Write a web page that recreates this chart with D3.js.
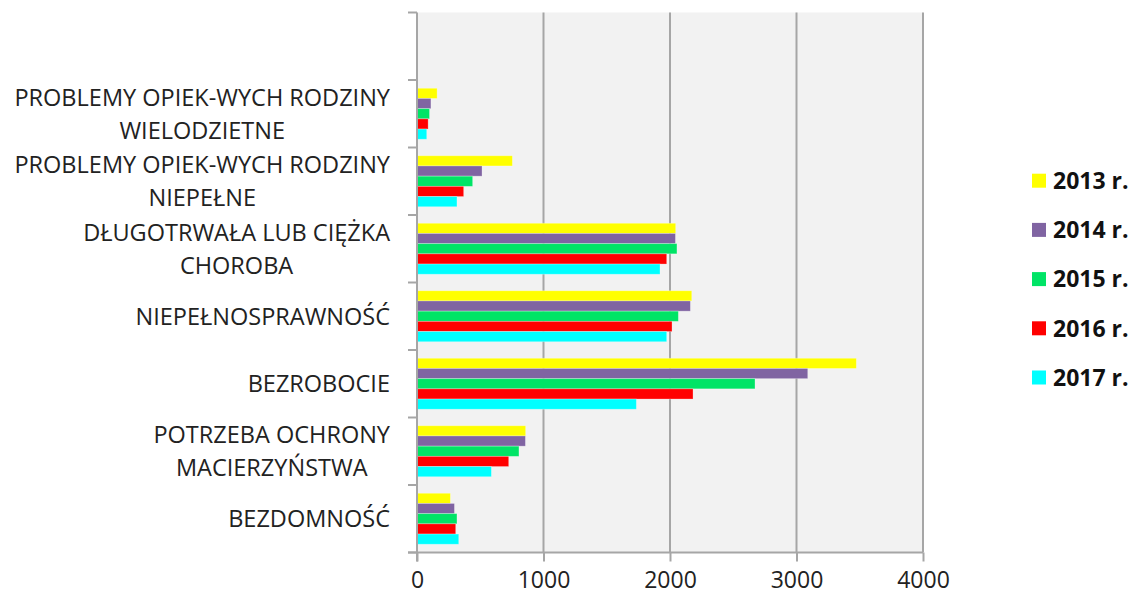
<!DOCTYPE html>
<html>
<head>
<meta charset="utf-8">
<script src="https://cdn.jsdelivr.net/npm/d3@7"></script>
<style>
  body { margin: 0; background: #fff; }
  svg { display: block; font-family: "Open Sans", sans-serif; }
</style>
</head>
<body>
<div id="chart"></div>
<script>
// categories from top to bottom (first slot is an empty band, as in the original)
const categories = [
    "",
    "PROBLEMY OPIEK-WYCH RODZINY\nWIELODZIETNE",
    "PROBLEMY OPIEK-WYCH RODZINY\nNIEPEŁNE",
    "DŁUGOTRWAŁA LUB CIĘŻKA\nCHOROBA",
    "NIEPEŁNOSPRAWNOŚĆ",
    "BEZROBOCIE",
    "POTRZEBA OCHRONY\nMACIERZYŃSTWA",
    "BEZDOMNOŚĆ"
];

const years = ["2013 r.", "2014 r.", "2015 r.", "2016 r.", "2017 r."];
const colors = ["#FFFF00", "#8064A2", "#00E466", "#FF0000", "#00FFFF"];

// values per year, same order as categories
const v2013 = [null, 159, 754, 2045, 2172, 3473, 859, 264];
const v2014 = [null, 110, 514, 2043, 2161, 3089, 857, 296];
const v2015 = [null, 99, 440, 2055, 2066, 2672, 806, 316];
const v2016 = [null, 88, 369, 1974, 2016, 2182, 725, 306];
const v2017 = [null, 77, 316, 1921, 1974, 1734, 588, 330];
const series = [v2013, v2014, v2015, v2016, v2017];

const xTicks = [0, 1000, 2000, 3000, 4000];

const width = 1132, height = 597;
const plot = { left: 417, right: 923, top: 12.5, bottom: 552.5 };
const gridColor = "#A6A6A6";

const svg = d3.select("#chart").append("svg")
    .attr("width", width)
    .attr("height", height);

const x = d3.scaleLinear().domain([0, 4000]).range([plot.left, plot.right]);
const y0 = d3.scaleBand().domain(d3.range(categories.length)).range([plot.top, plot.bottom]);
const y1 = d3.scaleBand().domain(d3.range(years.length)).range([0, y0.bandwidth()])
    .paddingInner(0).paddingOuter(0.81);

// plot background
svg.append("rect")
    .attr("x", plot.left).attr("y", plot.top)
    .attr("width", plot.right - plot.left)
    .attr("height", plot.bottom - plot.top)
    .attr("fill", "#F2F2F2");

// vertical grid
svg.append("g")
    .selectAll("line")
    .data(xTicks.slice(1))
    .enter().append("line")
    .attr("x1", d => x(d)).attr("x2", d => x(d))
    .attr("y1", plot.top).attr("y2", plot.bottom)
    .attr("stroke", gridColor)
    .attr("stroke-width", 2);

// bars
series.forEach((vals, si) => {
    svg.append("g")
        .selectAll("rect")
        .data(vals.map((v, ci) => ({ v, ci })).filter(d => d.v != null))
        .enter().append("rect")
        .attr("x", x(0))
        .attr("y", d => y0(d.ci) + y1(si))
        .attr("width", d => x(d.v) - x(0))
        .attr("height", y1.bandwidth())
        .attr("fill", colors[si])
        .attr("stroke", "#fff")
        .attr("stroke-opacity", 0.35)
        .attr("stroke-width", 0.8);
});

// x axis
const xAxis = svg.append("g")
    .attr("transform", `translate(0,${plot.bottom})`)
    .call(d3.axisBottom(x).tickValues(xTicks).tickSize(9).tickPadding(10).tickFormat(d3.format("d")));
xAxis.select(".domain").attr("stroke", gridColor).attr("stroke-width", 2)
    .attr("d", `M${plot.left - 9},0H${plot.right}`);
xAxis.selectAll(".tick line").attr("stroke", gridColor).attr("stroke-width", 2);
xAxis.selectAll(".tick text")
    .attr("font-size", 23)
    .attr("font-family", "Open Sans, sans-serif")
    .attr("fill", "#222");

// y axis line and ticks at band boundaries
const yAxis = svg.append("g");
yAxis.append("line")
    .attr("x1", plot.left).attr("x2", plot.left)
    .attr("y1", plot.top).attr("y2", plot.bottom + 9)
    .attr("stroke", gridColor).attr("stroke-width", 2);
yAxis.selectAll("line.tick")
    .data(d3.range(categories.length + 1))
    .enter().append("line")
    .attr("class", "tick")
    .attr("x1", plot.left - 9).attr("x2", plot.left)
    .attr("y1", i => plot.top + i * y0.step())
    .attr("y2", i => plot.top + i * y0.step())
    .attr("stroke", gridColor).attr("stroke-width", 2);

// category labels: block right aligned, lines centered inside block
const labelRight = 390;
const lineGap = 33;
categories.forEach((cat, ci) => {
    if (!cat) return;
    const lines = cat.split("\n");
    const cy = y0(ci) + y0.bandwidth() / 2;
    const g = svg.append("g");
    const texts = lines.map((ln, li) => g.append("text")
        .text(ln)
        .attr("y", cy + (li - (lines.length - 1) / 2) * lineGap)
        .attr("dy", "0.36em")
        .attr("font-size", 23.5)
        .attr("fill", "#222")
        .attr("text-anchor", "middle"));
    const maxW = d3.max(texts, t => t.node().getComputedTextLength());
    texts.forEach(t => t.attr("x", labelRight - maxW / 2));
});

// legend
const legend = svg.append("g");
years.forEach((yr, i) => {
    const cy = 180.7 + i * 49.2;
    legend.append("rect")
        .attr("x", 1032).attr("y", cy - 7)
        .attr("width", 14).attr("height", 14)
        .attr("fill", colors[i]);
    legend.append("text")
        .attr("x", 1053).attr("y", cy)
        .attr("dy", "0.36em")
        .attr("font-size", 23)
        .attr("font-weight", "bold")
        .attr("fill", "#111")
        .text(yr);
});
</script>
</body>
</html>
